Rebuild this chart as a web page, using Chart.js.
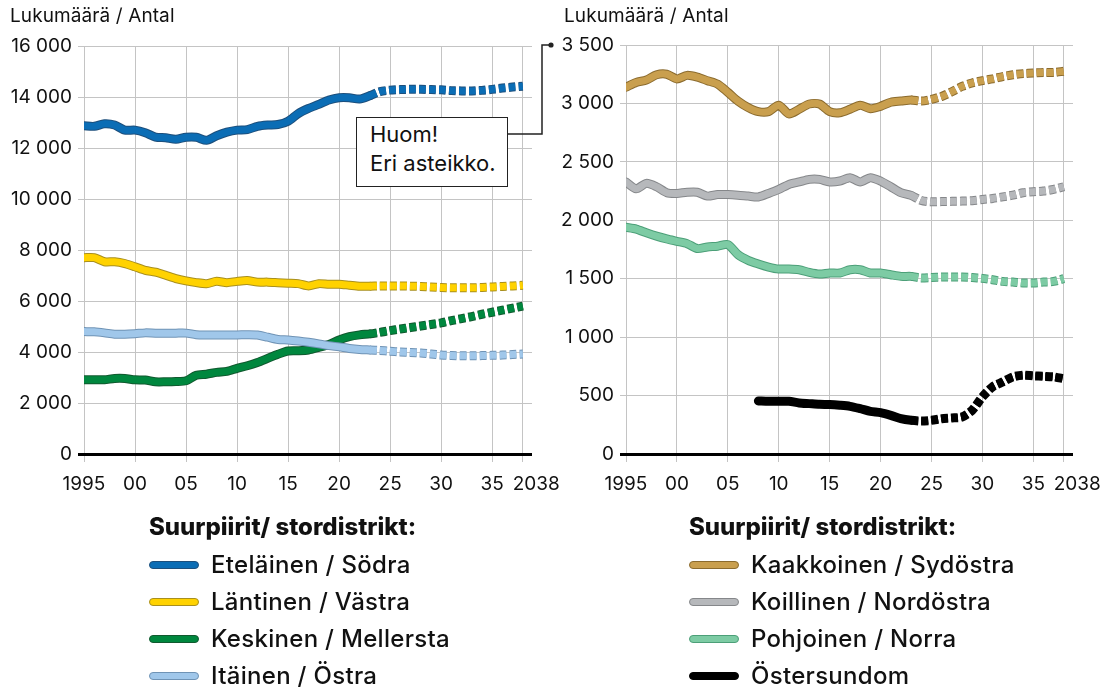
<!DOCTYPE html>
<html lang="fi">
<head>
<meta charset="utf-8">
<title>Suurpiirit / stordistrikt</title>
<script src="https://cdn.jsdelivr.net/npm/chart.js@4.4.1/dist/chart.umd.min.js"></script>
<style>
  html, body { margin: 0; padding: 0; background: #fff; }
  body { width: 1113px; height: 691px; position: relative; overflow: hidden; font-family: Inter, Roboto, sans-serif; color: #111; }
  canvas { position: absolute; top: 0; }
  #chartLeft { left: 0; }
  #chartRight { left: 556px; }
  .axis-title { position: absolute; top: 6px; font-size: 19px; line-height: 20px; letter-spacing: 0.1px; }
  .note { position: absolute; left: 356px; top: 117px; width: 152px; height: 70px; border: 1.5px solid #222; background: #fff;
          font-size: 22px; line-height: 29px; padding: 2px 0 0 13px; box-sizing: border-box; }
  .legend { position: absolute; top: 510px; }
  .legend .lg-title { font-weight: 800; font-size: 24px; line-height: 34px; margin-bottom: 2px; }
  .legend .lg-item { font-size: 24px; font-weight: 500; letter-spacing: 0.3px; line-height: 37px; height: 37px; display: flex; align-items: center; }
  .legend .sw { display: inline-block; width: 48px; height: 6px; border: 1px solid; border-radius: 5px; margin-right: 12px; }
  svg { position: absolute; left: 0; top: 0; }
</style>
</head>
<body>
<canvas id="chartLeft" width="572" height="500"></canvas>
<canvas id="chartRight" width="557" height="500"></canvas>

<div class="axis-title" style="left:10px">Lukumäärä / Antal</div>
<div class="axis-title" style="left:564px">Lukumäärä / Antal</div>

<svg width="1113" height="691">
  <polyline points="506,134 542,134 542,45 551,45" fill="none" stroke="#222" stroke-width="1.5"/>
  <circle cx="551" cy="45" r="2.6" fill="#222"/>
</svg>
<div class="note">Huom!<br>Eri asteikko.</div>

<div class="legend" id="legendLeft" style="left:149px"></div>
<div class="legend" id="legendRight" style="left:689px"></div>

<script>
// ===============================
// DATA
// ===============================

const years = [1995, 1996, 1997, 1998, 1999, 2000, 2001, 2002, 2003, 2004,
               2005, 2006, 2007, 2008, 2009, 2010, 2011, 2012, 2013, 2014,
               2015, 2016, 2017, 2018, 2019, 2020, 2021, 2022, 2023, 2024,
               2025, 2026, 2027, 2028, 2029, 2030, 2031, 2032, 2033, 2034,
               2035, 2036, 2037, 2038];
const forecastFrom = 2023;   // ennuste / prognos from here on

const xTickYears = [1995, 2000, 2005, 2010, 2015, 2020, 2025, 2030, 2035, 2038];
const xTickLabels = ["1995", "00", "05", "10", "15", "20", "25", "30", "35", "2038"];

const legendTitle = "Suurpiirit/ stordistrikt:";
const leftNames = ["Eteläinen / Södra", "Läntinen / Västra", "Keskinen / Mellersta", "Itäinen / Östra"];
const rightNames = ["Kaakkoinen / Sydöstra", "Koillinen / Nordöstra", "Pohjoinen / Norra", "Östersundom"];

const etelainen = [12870, 12850, 12950, 12900, 12700, 12700, 12600, 12430, 12400, 12340,
                   12420, 12420, 12300, 12480, 12620, 12700, 12720, 12850, 12900, 12920,
                   13050, 13350, 13550, 13710, 13880, 13970, 13970, 13920, 14050, 14210,
                   14270, 14290, 14300, 14300, 14290, 14280, 14250, 14240, 14240, 14260,
                   14300, 14350, 14390, 14420];
const lantinen = [7700, 7700, 7540, 7540, 7470, 7340, 7200, 7130, 7010, 6880,
                  6790, 6720, 6680, 6770, 6720, 6770, 6800, 6740, 6740, 6720,
                  6700, 6680, 6590, 6680, 6660, 6660, 6620, 6580, 6580, 6590,
                  6590, 6590, 6580, 6570, 6550, 6530, 6520, 6520, 6520, 6530,
                  6550, 6570, 6590, 6620];
const keskinen = [2910, 2910, 2910, 2960, 2960, 2910, 2900, 2830, 2830, 2840,
                  2870, 3090, 3130, 3200, 3240, 3360, 3460, 3590, 3750, 3910,
                  4040, 4050, 4080, 4180, 4290, 4470, 4600, 4670, 4710, 4770,
                  4840, 4900, 4960, 5020, 5080, 5140, 5230, 5310, 5390, 5480,
                  5560, 5640, 5720, 5800];
const itainen = [4800, 4790, 4750, 4700, 4700, 4720, 4750, 4740, 4740, 4740,
                 4740, 4680, 4670, 4670, 4670, 4670, 4680, 4670, 4580, 4490,
                 4470, 4430, 4380, 4320, 4250, 4200, 4140, 4100, 4080, 4060,
                 4030, 4000, 3980, 3960, 3920, 3880, 3860, 3850, 3850, 3860,
                 3870, 3880, 3900, 3920];

const kaakkoinen = [3138, 3180, 3200, 3245, 3250, 3210, 3240, 3225, 3195, 3165,
                    3095, 3020, 2965, 2930, 2930, 2985, 2910, 2950, 2995, 2995,
                    2930, 2920, 2950, 2985, 2955, 2975, 3010, 3020, 3030, 3020,
                    3035, 3060, 3100, 3145, 3175, 3195, 3210, 3230, 3245, 3255,
                    3260, 3265, 3265, 3275];
const koillinen = [2328, 2270, 2316, 2287, 2236, 2230, 2240, 2240, 2207, 2220,
                   2220, 2215, 2207, 2200, 2230, 2264, 2307, 2328, 2350, 2350,
                   2328, 2336, 2365, 2328, 2365, 2336, 2287, 2236, 2213, 2170,
                   2158, 2160, 2162, 2164, 2168, 2178, 2187, 2200, 2215, 2236,
                   2244, 2250, 2264, 2287];
const pohjoinen = [1940, 1925, 1893, 1864, 1840, 1820, 1800, 1758, 1772, 1778,
                   1792, 1706, 1657, 1626, 1600, 1583, 1583, 1577, 1554, 1540,
                   1549, 1549, 1577, 1577, 1549, 1549, 1534, 1520, 1520, 1506,
                   1511, 1514, 1514, 1514, 1510, 1503, 1491, 1477, 1471, 1463,
                   1463, 1471, 1477, 1500];
const ostersundom = [null, null, null, null, null, null, null, null, null, null,
                     null, null, null, 454, 451, 451, 451, 437, 431, 425,
                     423, 417, 408, 388, 365, 354, 331, 302, 288, 282,
                     288, 302, 308, 317, 374, 489, 575, 617, 660, 674,
                     669, 665, 660, 645];

// ===============================
// STYLE
// ===============================

const FONT = "Inter, Roboto, sans-serif";
const GRID = "#c4c4c4";

const leftColors = [
  { fill: "#0b6db5", edge: "#1d4f7c" },
  { fill: "#ffd200", edge: "#a88f1e" },
  { fill: "#00873e", edge: "#11592f" },
  { fill: "#a0c7ea", edge: "#6f93b5" }
];
const rightColors = [
  { fill: "#c99f4e", edge: "#8b6b2e" },
  { fill: "#b6b8bb", edge: "#85878a" },
  { fill: "#7dcba4", edge: "#4c9f78" },
  { fill: "#000000", edge: "#000000" }
];

function fmt(v) {
  if (v < 1000) return String(v);
  return Math.floor(v / 1000) + " " + String(v % 1000).padStart(3, "0");
}

function isForecast(ctx) {
  return ctx.p0.parsed.x >= forecastFrom;
}

// two datasets per series: dark edge underneath, colour on top
function seriesDatasets(values, col, idx) {
  const pts = years.map((yr, i) => ({ x: yr, y: values[i] }));
  const common = {
    data: pts,
    pointRadius: 0,
    tension: 0.25,
    borderCapStyle: "round",
    borderJoinStyle: "round",
    fill: false,
    segment: {
      borderDash: ctx => isForecast(ctx) ? [7, 3] : undefined,
      borderCapStyle: ctx => isForecast(ctx) ? "butt" : undefined
    }
  };
  return [
    Object.assign({}, common, { borderColor: col.edge, borderWidth: 9, order: 100 - idx * 2 }),
    Object.assign({}, common, { borderColor: col.fill, borderWidth: 7, order: 99 - idx * 2 })
  ];
}

function makeChart(canvasId, seriesList, colors, yMax, yStep, yWidth, padTop) {
  const datasets = [];
  seriesList.forEach((vals, i) => datasets.push(...seriesDatasets(vals, colors[i], i)));

  return new Chart(document.getElementById(canvasId), {
    type: "line",
    data: { datasets: datasets },
    options: {
      responsive: false,
      animation: false,
      events: [],
      devicePixelRatio: 1,
      layout: { padding: { top: padTop, right: 40, left: 0, bottom: 0 } },
      plugins: { legend: { display: false }, tooltip: { enabled: false } },
      scales: {
        x: {
          type: "linear",
          min: 1995,
          max: 2038.9,
          afterBuildTicks: s => { s.ticks = xTickYears.map(v => ({ value: v })); },
          afterFit: s => { s.height = 46; },
          border: { display: false },
          grid: { color: GRID, lineWidth: 1, tickLength: 8 },
          ticks: {
            autoSkip: false,
            maxRotation: 0,
            padding: 11,
            color: "#111",
            font: { family: FONT, size: 19 },
            // last label sits a bit right of its gridline, as in the original
            callback: (v, i) => i === xTickLabels.length - 1 ? "     " + xTickLabels[i] : xTickLabels[i]
          }
        },
        y: {
          min: 0,
          max: yMax,
          afterFit: s => { s.width = yWidth; },
          border: { display: false },
          grid: {
            color: ctx => ctx.tick && ctx.tick.value === 0 ? "#000" : GRID,
            lineWidth: ctx => ctx.tick && ctx.tick.value === 0 ? 3 : 1,
            tickLength: 6
          },
          ticks: {
            stepSize: yStep,
            padding: 6,
            color: "#111",
            font: { family: FONT, size: 19 },
            callback: v => fmt(v)
          }
        }
      }
    }
  });
}

// ===============================
// LEGENDS
// ===============================

function buildLegend(elId, names, colors) {
  const el = document.getElementById(elId);
  let html = '<div class="lg-title">' + legendTitle + '</div>';
  names.forEach((n, i) => {
    html += '<div class="lg-item"><span class="sw" style="background:' + colors[i].fill +
            ';border-color:' + colors[i].edge + '"></span>' + n + '</div>';
  });
  el.innerHTML = html;
}

document.addEventListener("DOMContentLoaded", () => {
  makeChart("chartLeft", [etelainen, lantinen, keskinen, itainen], leftColors, 16000, 2000, 84, 46);
  makeChart("chartRight", [kaakkoinen, koillinen, pohjoinen, ostersundom], rightColors, 3500, 500, 70, 45);
  buildLegend("legendLeft", leftNames, leftColors);
  buildLegend("legendRight", rightNames, rightColors);
});
</script>
</body>
</html>
